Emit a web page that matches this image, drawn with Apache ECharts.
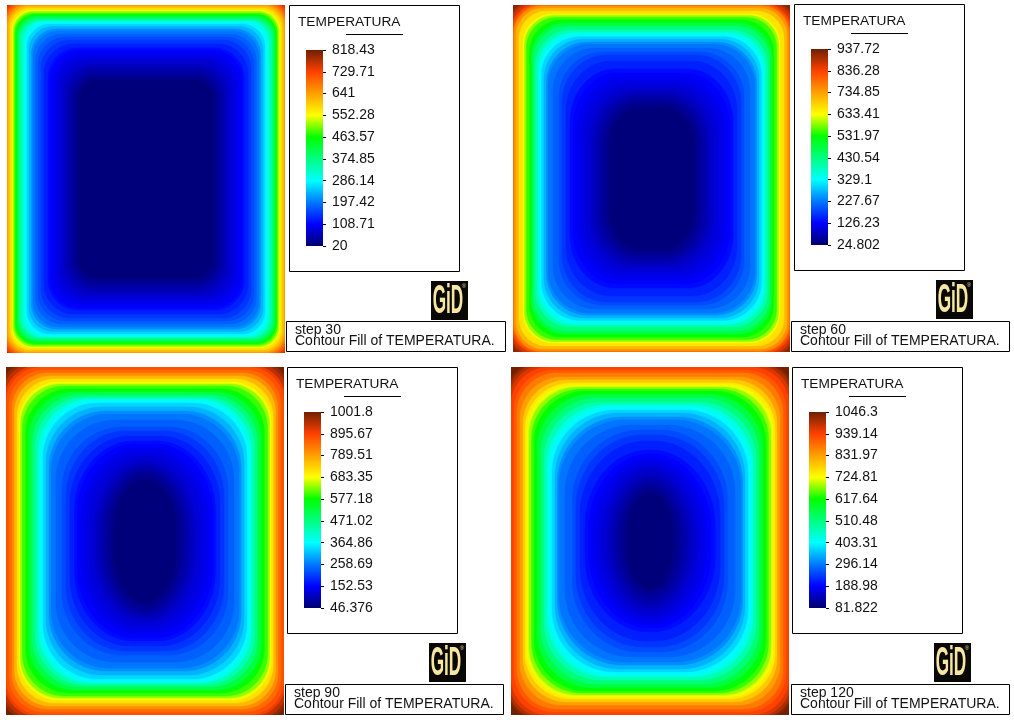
<!DOCTYPE html>
<html><head><meta charset="utf-8">
<style>html,body{margin:0;padding:0;background:#fff}#c{width:1014px;height:724px}</style>
<script src="https://cdn.jsdelivr.net/npm/echarts@6/dist/echarts.min.js"></script>
</head><body><div id="c"></div>
<script>
// Legend tick labels (bottom to top)
const ticks30 = ['20','108.71','197.42','286.14','374.85','463.57','552.28','641','729.71','818.43'];
const ticks60 = ['24.802','126.23','227.67','329.1','430.54','531.97','633.41','734.85','836.28','937.72'];
const ticks90 = ['46.376','152.53','258.69','364.86','471.02','577.18','683.35','789.51','895.67','1001.8'];
const ticks120 = ['81.822','188.98','296.14','403.31','510.48','617.64','724.81','831.97','939.14','1046.3'];
const ranges = [[20,818.43],[24.802,937.72],[46.376,1001.8],[81.822,1046.3]];
const stepNames = ['step 30','step 60','step 90','step 120'];

// Isotherms: temperature, inset from plate edge (x, y), corner radii (x, y)
const temp30 = [770,739,707,675,643,611,579,547,515,483,459,419,379,339,307,283,260,236,212,196,180,164,148,132,116,108,100,92,84,76,68,60,52,44,36,28];
const insetX30 = [-30,-4,-3,-1.5,0,1.5,3.2,5,6.2,7.5,8.7,10,11.5,13.5,16,18,20,22,24.5,26,28.5,31,34,37,41,43,46,49,52,55,58,61,63.5,66,69,72];
const insetY30 = [-30,-4,-3,-1.5,0,1.5,3.2,5.2,6.5,8,9.5,11,13,15,16,17,19,21.5,24,26,29,32,35,39,43,45,48,51,54,57,60,63,66,69,72,75];
const radX30 = [0,18,20,20,20,20,20,20,20,20,20,20,20,20,20,22,23,24,25,26,27,28,29,30,30,30,30,30,30,30,30,28,27,25,22,20];
const radY30 = [0,18,20,20,20,20,20,20,20,20,20,20,20,20,20,22,23,24,25,26,27,28,29,30,30,30,30,30,30,30,30,28,27,25,22,20];

const temp60 = [920,892,865,828,792,755,710,664,627,591,554,527,481,436,390,353,326,299,271,244,226,207,189,171,153,134,125,116,107,98,89,80,70,61,52,43,34];
const insetX60 = [-30,-4,-3,-1.5,0,1,3,6,10,11.5,13.5,16.5,18.5,20.5,22.5,25,26.5,28.5,31,33.5,35,40,46,49,53,57,60,64,68,72.5,77,80,83.5,87,90,93,96];
const insetY60 = [-30,-4,-3,-1.5,0,1,3,6,9,10.5,12.5,15,18,21,25,27.5,29,31.5,34,37,39,43,47,50,56,64,68,72,76,80,84,87,90,93,96,99.5,103];
const radX60 = [0,24,26,28,28,28,28,28,30,30,30,32,34,34,36,36,38,39,40,41,42,43,44,45,45,45,45,45,44,43,42,41,40,38,35,33,30];
const radY60 = [0,24,26,28,28,28,28,28,30,30,30,32,34,34,36,36,38,39,40,41,42,43,45,48,50,53,55,55,55,54,52,50,48,46,45,42,40];

const temp90 = [1000,973,945,906,878,849,811,763,715,677,639,601,572,524,476,429,390,362,333,304,276,257,237,218,199,180,161,152,142,132,123,113,104,94,85,75,66,56];
const insetX90 = [-30,-4,-3,-1.5,0,3,6,8.5,11,13,14.5,16.5,19.7,23,26.5,29.5,32.5,34.7,37,40,43,45,50,56,60,64,68.5,71,75,79.5,84,88,91,94.5,98,101,104.5,108];
const insetY90 = [-30,-4,-3,-1.5,0,3,6,9,12,15,17,19,22,25,28,30,32,33,36,40,44,47,53,60,64,69,74,77,81,85,89,93,96,99,102,105,109,113];
const radX90 = [0,26,30,34,36,36,36,36,38,40,40,42,44,46,48,50,52,54,55,56,57,58,59,60,60,60,59,58,56,54,52,50,48,45,42,38,35,32];
const radY90 = [0,26,30,34,36,36,36,36,38,40,40,42,44,46,48,50,52,54,55,56,57,58,60,63,66,68,70,72,72,72,72,72,70,68,65,60,55,50];

const temp120 = [1044,1027,998,969,940,911,873,834,786,747,718,680,641,612,564,516,468,429,400,371,342,313,294,275,255,236,217,198,188,178,169,159,149,140,130,120,111,101,91];
const insetX120 = [-30,-4,-3,-2,0,3,6,9,12,14,16,18,20.5,23,26.5,30,33,36,38,41,44,46.5,48,54,61.5,65,69,74,78,82,86,90.5,94.7,98,101.5,105,108,112,116];
const insetY120 = [-30,-4,-3,-2,0,3,6,10,13,16,18,20,22,24,27.5,31,35,38,40,43,46,50,53,58,63,68,74,83,87,91,95,99,103,107,111,115,119,122.5,126];
const radX120 = [0,30,32,36,38,40,40,42,44,46,46,48,50,52,54,56,58,60,62,63,64,65,66,67,68,67,66,64,62,60,58,56,54,52,49,46,42,38,32];
const radY120 = [0,30,32,36,38,40,40,42,44,46,46,48,50,52,54,56,58,60,62,63,64,65,66,67,70,72,74,75,75,75,75,74,72,70,66,62,58,52,45];

const thermal = ['#00006e','#0000ff','#0078ff','#00ffff','#00ff80','#00ff00','#ffff00','#ffa000','#ff4000','#6e2000'];

const panels = [
  {plate:[7,5,278,348],  off:[0,0],      logo:[431,281], info:[286,321,219,30], ticks:ticks30,  t:temp30,  ix:insetX30,  iy:insetY30,  rx:radX30,  ry:radY30},
  {plate:[513,5,277,347],off:[505,-1],   logo:[936,280], info:[791,321,218,30], ticks:ticks60,  t:temp60,  ix:insetX60,  iy:insetY60,  rx:radX60,  ry:radY60},
  {plate:[6,367,278,348],off:[-2,362],   logo:[429,643], info:[285,684,218,30], ticks:ticks90,  t:temp90,  ix:insetX90,  iy:insetY90,  rx:radX90,  ry:radY90},
  {plate:[511,367,278,348],off:[503,362],logo:[934,643], info:[791,684,218,30], ticks:ticks120, t:temp120, ix:insetX120, iy:insetY120, rx:radX120, ry:radY120}
];

const FONT = '"Liberation Sans", Arial, sans-serif';
function bandItem(params, api){
  const P = panels[params.seriesIndex];
  const W = P.plate[2], H = P.plate[3];
  const ix = api.value(1), iy = api.value(2);
  const x0 = ix, x1 = W-ix, y0 = iy, y1 = H-iy;
  const rx = Math.min(api.value(3), (x1-x0)/2), ry = Math.min(api.value(4), (y1-y0)/2);
  const pts = [];
  const corners = [[x1-rx,y0+ry,-90],[x1-rx,y1-ry,0],[x0+rx,y1-ry,90],[x0+rx,y0+ry,180]];
  corners.forEach(c=>{
    for(let k=0;k<=16;k++){
      const a=(c[2]+k*90/16)*Math.PI/180;
      pts.push(api.coord([c[0]+rx*Math.cos(a), c[1]+ry*Math.sin(a)]));
    }
  });
  return {type:'polygon', shape:{points:pts}, style:{fill:api.visual('color'), stroke:api.visual('color'), lineWidth:0.5}};
}
function barItem(params, api){
  const a = api.coord([0,9]), b = api.coord([1,0]);
  return {type:'rect', shape:{x:a[0],y:a[1],width:b[0]-a[0],height:b[1]-a[1]},
    style:{fill:new echarts.graphic.LinearGradient(0,1,0,0,thermal.map((c,k)=>({offset:k/9,color:c})))}};
}

const grid=[], xAxis=[], yAxis=[], series=[], visualMap=[], graphic=[];
panels.forEach((P,i)=>{
  const [l,t,w,h]=P.plate;
  grid.push({left:l,top:t,width:w,height:h});
  xAxis.push({type:'value',gridIndex:i,min:0,max:w,show:false});
  yAxis.push({type:'value',gridIndex:i,min:0,max:h,inverse:true,show:false});
  series.push({type:'custom',xAxisIndex:i,yAxisIndex:i,clip:true,silent:true,
    renderItem:bandItem,encode:{x:1,y:2},
    data:P.t.map((v,k)=>[v,P.ix[k],P.iy[k],P.rx[k],P.ry[k]])});
  visualMap.push({type:'continuous',seriesIndex:i,dimension:0,min:ranges[i][0],max:ranges[i][1],
    inRange:{color:thermal},show:false});
});
panels.forEach((P,i)=>{
  const [ox,oy]=P.off;
  const g=4+i;
  grid.push({left:306+ox,top:50+oy,width:17,height:196});
  xAxis.push({type:'value',gridIndex:g,show:false,min:0,max:1});
  yAxis.push({type:'category',gridIndex:g,position:'right',boundaryGap:false,data:P.ticks,
    axisLine:{show:false,onZero:false},axisTick:{show:true,interval:0,length:3,lineStyle:{color:'#000'}},
    axisLabel:{show:true,interval:0,margin:9,align:'left',color:'#111',fontFamily:FONT,fontSize:14},splitLine:{show:false}});
  series.push({type:'custom',xAxisIndex:g,yAxisIndex:g,silent:true,renderItem:barItem,clip:false,
    encode:{x:0,y:1},data:[[0,0]]});
  graphic.push({type:'rect',silent:true,shape:{x:289.5+ox,y:5.5+oy,width:170,height:266},style:{fill:'none',stroke:'#000',lineWidth:1},z:5});
  graphic.push({type:'text',silent:true,x:298+ox,y:15+oy,style:{text:'TEMPERATURA',fill:'#111',font:'13.7px '+FONT},z:5});
  graphic.push({type:'line',silent:true,shape:{x1:346+ox,y1:34.5+oy,x2:403+ox,y2:34.5+oy},style:{stroke:'#000',lineWidth:1},z:5});
  // GiD logo
  const [lx,ly]=P.logo;
  graphic.push({type:'rect',silent:true,shape:{x:lx,y:ly,width:37,height:39},style:{fill:'#0a0804'},z:5});
  graphic.push({type:'text',silent:true,x:lx+17,y:ly+21,scaleX:0.43,style:{text:'GiD',fill:'#f6e6a0',align:'center',verticalAlign:'middle',font:'bold 40px '+FONT},z:6});
  graphic.push({type:'text',silent:true,x:lx+33,y:ly+5,style:{text:'®',fill:'#d8d0a0',align:'center',verticalAlign:'middle',font:'6px '+FONT},z:6});
  // info box
  const [bx,by,bw,bh]=P.info;
  graphic.push({type:'rect',silent:true,shape:{x:bx+.5,y:by+.5,width:bw,height:bh},style:{fill:'#fff',stroke:'#000',lineWidth:1},z:5});
  graphic.push({type:'text',silent:true,x:bx+9,y:by+2,style:{text:stepNames[i],fill:'#111',font:'14px '+FONT},z:6});
  graphic.push({type:'text',silent:true,x:bx+9,y:by+13,style:{text:'Contour Fill of TEMPERATURA.',fill:'#111',font:'14px '+FONT},z:6});
});

const chart=echarts.init(document.getElementById('c'),null,{renderer:'canvas',width:1014,height:724});
chart.setOption({animation:false,backgroundColor:'#fff',grid,xAxis,yAxis,series,visualMap,graphic});
</script></body></html>
